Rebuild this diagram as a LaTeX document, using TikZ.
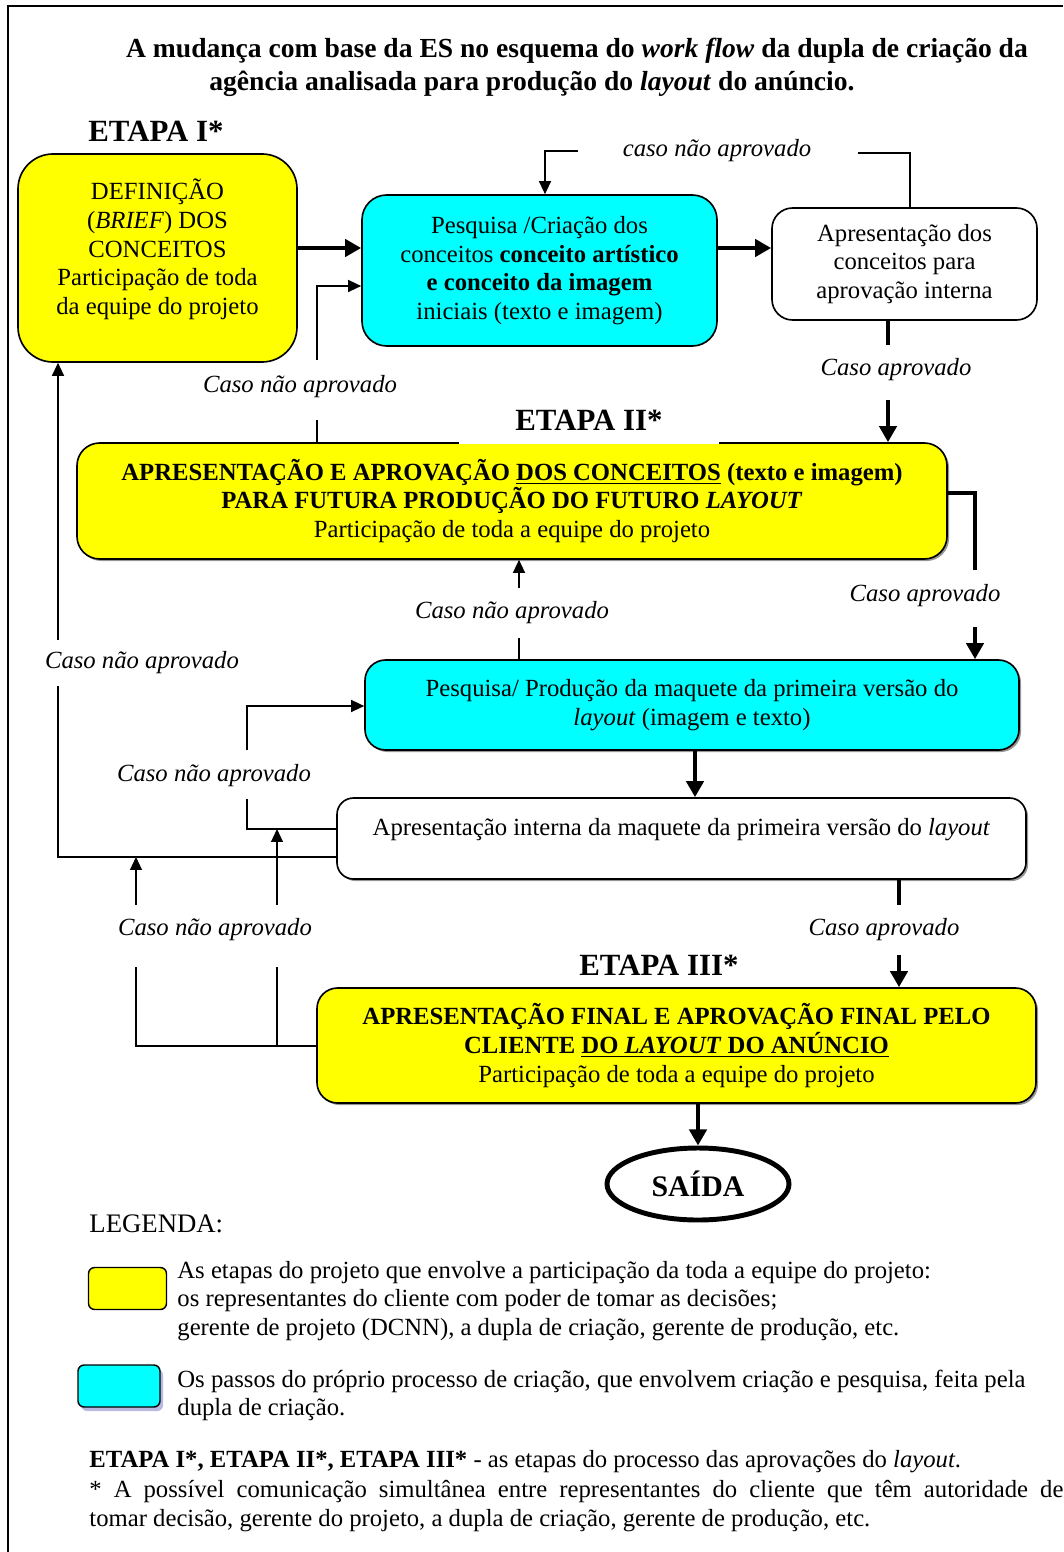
\documentclass[tikz,border=0pt]{standalone}
\usepackage{fontspec}
\setmainfont{Liberation Serif}
\usetikzlibrary{arrows.meta,shapes.geometric,shadows}

\definecolor{boxyellow}{RGB}{255,255,0}
\definecolor{boxcyan}{RGB}{0,255,255}
\definecolor{shadowgray}{RGB}{150,150,150}
\newcommand\pxu{0.486pt}

\begin{document}
\begin{tikzpicture}[x=0.486pt,y=-0.486pt,
  every node/.style={font=\fontsize{12}{14}\selectfont, inner sep=0pt},
  flowbox/.style={draw, line width=0.8pt, align=center, rounded corners=#1},
  flowbox/.default=10pt,
  yellowbox/.style={flowbox=#1, fill=boxyellow},
  yellowbox/.default=10pt,
  cyanbox/.style={flowbox=#1, fill=boxcyan},
  cyanbox/.default=10pt,
  whitebox/.style={flowbox=#1, fill=white},
  whitebox/.default=10pt,
  boxshadow/.style={drop shadow={shadow xshift=1pt, shadow yshift=-1pt, fill=shadowgray, opacity=1}},
  lab/.style={font=\fontsize{12}{14}\selectfont\itshape},
  stage/.style={font=\fontsize{15}{17}\selectfont\bfseries},
  thinline/.style={line width=0.65pt},
  thinarrow/.style={line width=0.65pt, -{Triangle[length=6.3pt, width=5.8pt]}},
  bigline/.style={line width=2pt},
  bigarrow/.style={line width=2pt, -{Triangle[length=7.8pt, width=8.3pt]}},
]
\useasboundingbox (0,0) rectangle (1063,1552);

% page frame
\draw[line width=1.2pt] (8,1552) -- (8,6) -- (1063,6);

% heading
\node[font=\fontsize{13.4}{16}\selectfont\bfseries] (t1) at (577,51)
  {A mudança com base da ES no esquema do \textit{work flow} da dupla de criação da};
\node[font=\fontsize{13.4}{16}\selectfont\bfseries] (t2) at (532,84)
  {agência analisada para produção do \textit{layout} do anúncio.};

% ---------- stage I ----------
\node[stage] (e1) at (156,131) {ETAPA I*};

\node[yellowbox=17pt, minimum width=279*\pxu, minimum height=208*\pxu] (A) at (157.5,258)
  {DEFINIÇÃO\\(\textit{BRIEF}) DOS\\CONCEITOS\\Participação de toda\\da equipe do projeto\\[-3pt]\mbox{}};

\node[cyanbox=12pt, minimum width=355*\pxu, minimum height=151*\pxu] (B) at (539.5,270.5)
  {Pesquisa /Criação dos\\conceitos \textbf{conceito artístico}\\\textbf{e conceito da imagem}\\iniciais (texto e imagem)};

\node[whitebox=10pt, minimum width=265*\pxu, minimum height=112*\pxu] (C) at (904.5,264)
  {Apresentação dos\\conceitos para\\aprovação interna};

% ---------- stage II ----------
\node[yellowbox=11pt, boxshadow, minimum width=870*\pxu, minimum height=116*\pxu] (D) at (512,501)
  {\textbf{APRESENTAÇÃO E APROVAÇÃO \underline{DOS CONCEITOS} (texto e imagem)}\\
   \textbf{PARA FUTURA PRODUÇÃO DO FUTURO \textit{LAYOUT}}\\
   Participação de toda a equipe do projeto};
\node[stage, fill=white, minimum width=260*\pxu, minimum height=48*\pxu] (e2) at (589,420) {ETAPA II*};

\node[cyanbox=10pt, boxshadow, minimum width=654*\pxu, minimum height=90*\pxu] (E) at (692,705)
  {Pesquisa/ Produção da maquete da primeira versão do\\\textit{layout} (imagem e texto)};

\node[whitebox=8pt, boxshadow, minimum width=689*\pxu, minimum height=81*\pxu] (F) at (681.5,838.5)
  {Apresentação interna da maquete da primeira versão do \textit{layout}\\[-3pt]\mbox{}};

% ---------- stage III ----------
\node[stage] (e3) at (659,965) {ETAPA III*};

\node[yellowbox=10pt, boxshadow, minimum width=719*\pxu, minimum height=115*\pxu] (G) at (676.5,1045.5)
  {\textbf{APRESENTAÇÃO FINAL E APROVAÇÃO FINAL PELO}\\
   \textbf{CLIENTE \underline{DO \textit{LAYOUT} DO ANÚNCIO}}\\
   Participação de toda a equipe do projeto};

\node[ellipse, draw, line width=2.4pt, minimum width=182*\pxu, minimum height=72*\pxu,
      font=\fontsize{14.5}{17}\selectfont\bfseries] (S) at (698,1184) {SAÍDA};

% ---------- labels on the connectors ----------
\node[lab] (l1) at (717,151) {caso não aprovado};
\node[lab] (l2) at (300,387) {Caso não aprovado};
\node[lab] (l3) at (896,370) {Caso aprovado};
\node[lab] (l4) at (925,596) {Caso aprovado};
\node[lab] (l5) at (512,613) {Caso não aprovado};
\node[lab] (l6) at (142,663) {Caso não aprovado};
\node[lab] (l7) at (214,776) {Caso não aprovado};
\node[lab] (l8) at (215,930) {Caso não aprovado};
\node[lab] (l9) at (884,930) {Caso aprovado};

% ---------- main (approved) flow ----------
\draw[bigarrow] (A.east |- 0,248) -- (B.west |- 0,248);
\draw[bigarrow] (B.east |- 0,248) -- (C.west |- 0,248);
\coordinate (c1) at (888,345);
\coordinate (c2) at (888,400);
\draw[bigline] (C.south -| c1) -- (c1);
\draw[bigarrow] (c2) -- (D.north -| c2);
\coordinate (d1) at (975,570);
\coordinate (d2) at (975,627);
\draw[bigline] (D.east |- 0,493) -| (d1);
\draw[bigarrow] (d2) -- (E.north -| d2);
\draw[bigarrow] (E.south -| 695,0) -- (F.north -| 695,0);
\coordinate (f1) at (899,905);
\coordinate (f2) at (899,955);
\draw[bigline] (F.south -| f1) -- (f1);
\draw[bigarrow] (f2) -- (G.north -| f2);
\draw[bigarrow] (G.south -| S.north) -- (S.north);

% ---------- return paths (not approved) ----------
% internal presentation back to creation
\coordinate (r1) at (858,153);
\coordinate (r2) at (578,151);
\draw[thinline] (C.north -| 910,0) |- (r1);
\draw[thinarrow] (r2) -| (B.north -| 545,0);
% stage II back to creation
\coordinate (r3) at (317,420);
\coordinate (r4) at (317,360);
\draw[thinline] (D.north -| r3) -- (r3);
\draw[thinarrow] (r4) |- (B.west |- 0,286);
% layout research back to stage II
\coordinate (r5) at (519,638);
\coordinate (r6) at (519,588);
\draw[thinline] (E.north -| r5) -- (r5);
\draw[thinarrow] (r6) -- (D.south -| r6);
% internal layout presentation back to research
\coordinate (r7) at (247,799);
\coordinate (r8) at (247,750);
\draw[thinline] (F.west |- 0,829) -| (r7);
\draw[thinarrow] (r8) |- (E.west |- 0,706);
% internal layout presentation back to stage I
\coordinate (r9) at (58,686);
\coordinate (r10) at (58,640);
\draw[thinline] (F.west |- 0,857) -| (r9);
\draw[thinarrow] (r10) -- (A.south -| r10);
% final presentation back to the loops above
\coordinate (g1) at (136,967);
\coordinate (g2) at (277,967);
\coordinate (g3) at (136,905);
\coordinate (g4) at (277,905);
\coordinate (g5) at (136,857);
\coordinate (g6) at (277,829);
\draw[thinline] (G.west |- 0,1046) -| (g1);
\draw[thinline] (g2 |- 0,1046) -- (g2);
\draw[thinarrow] (g3) -- (g5);
\draw[thinarrow] (g4) -- (g6);

% ---------- legend ----------
\node[anchor=west, font=\fontsize{13}{15}\selectfont] (leg) at (89,1224) {LEGENDA:};
\node[draw, fill=boxyellow, rounded corners=3pt, line width=0.7pt,
      minimum width=78*\pxu, minimum height=42*\pxu] (ly) at (127.5,1288.5) {};
\node[anchor=west, align=left] (lyt) at (177,1301)
  {As etapas do projeto que envolve a participação da toda a equipe do projeto:\\
   os representantes do cliente com poder de tomar as decisões;\\
   gerente de projeto (DCNN), a dupla de criação, gerente de produção, etc.};
\node[draw, fill=boxcyan, rounded corners=3pt, line width=0.7pt,
      drop shadow={shadow xshift=1.5pt, shadow yshift=-2pt, fill=gray!60!blue!40, opacity=1},
      minimum width=82*\pxu, minimum height=42*\pxu] (lc) at (119,1386) {};
\node[anchor=west, align=left] (lct) at (177,1395.5)
  {Os passos do próprio processo de criação, que envolvem criação e pesquisa, feita pela\\
   dupla de criação.};

\node[anchor=west] (note1) at (89,1462)
  {\textbf{ETAPA I*, ETAPA II*, ETAPA III*} - as etapas do processo das aprovações do \textit{layout}.};
\node[anchor=north west, text width=974*\pxu, align=justify] (note2) at (89,1480)
  {* A possível comunicação simultânea entre representantes do cliente que têm autoridade de\linebreak
   tomar decisão, gerente do projeto, a dupla de criação, gerente de produção, etc.};
\end{tikzpicture}
\end{document}
